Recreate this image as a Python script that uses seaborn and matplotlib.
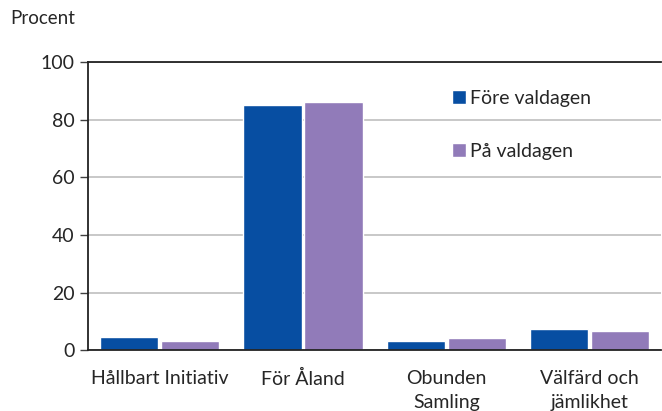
import pandas as pd
import matplotlib.pyplot as plt
import seaborn as sns

categories = ["Hållbart Initiativ", "För Åland", "Obunden\nSamling", "Välfärd och\njämlikhet"]
fore_valdagen = [4.4, 85.1, 3.3, 7.5]
pa_valdagen = [3.3, 86.1, 4.2, 6.6]
series = ["Före valdagen", "På valdagen"]
colors = ["#074EA2", "#917BB9"]

df = pd.DataFrame({
    "parti": categories * 2,
    "procent": fore_valdagen + pa_valdagen,
    "serie": [series[0]] * 4 + [series[1]] * 4,
})

sns.set_style("white")
plt.rcParams["font.family"] = ["Lato", "DejaVu Sans"]

fig = plt.figure(figsize=(6.62, 4.11), dpi=100)
ax = fig.add_axes([0.133, 0.148, 0.866, 0.701])

sns.barplot(data=df, x="parti", y="procent", hue="serie", palette=colors,
            width=0.85, gap=0.04, saturation=1, ax=ax)

ax.set_ylim(0, 100)
ax.set_yticks([0, 20, 40, 60, 80, 100])
ax.yaxis.grid(True, color="#BFBFBF", linewidth=1.2)
ax.set_axisbelow(True)
ax.set_xlabel("")
ax.set_ylabel("")
ax.tick_params(axis="y", labelsize=14, length=6, width=1, color="#404040", direction="out", left=True)
ax.tick_params(axis="x", labelsize=14, length=0, pad=14)
for lbl in ax.get_xticklabels():
    lbl.set_linespacing(1.5)
for s in ["left", "bottom", "top"]:
    ax.spines[s].set_color("#222222")
    ax.spines[s].set_linewidth(1.3)
ax.spines["right"].set_visible(False)

fig.text(0.015, 0.955, "Procent", fontsize=13.5, va="center")

leg = ax.legend(loc="upper left", bbox_to_anchor=(0.605, 0.965), frameon=False,
                fontsize=14, handlelength=0.7, handleheight=0.7,
                handletextpad=0.2, labelspacing=1.85)

fig.savefig("out.png", dpi=100)
